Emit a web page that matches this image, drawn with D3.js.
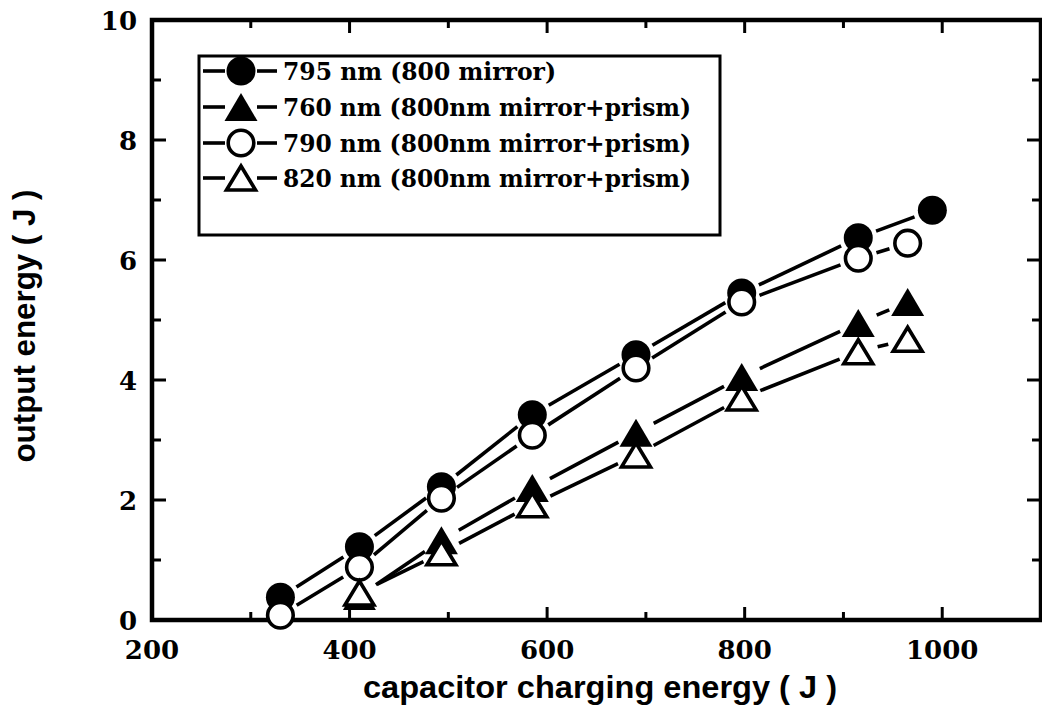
<!DOCTYPE html>
<html><head><meta charset="utf-8">
<script src="https://cdn.jsdelivr.net/npm/d3@7"></script>
<style>body{margin:0;background:#fff}</style>
</head><body>
<svg id="c" width="1042" height="712"></svg>
<script>
// ---- data ----
const x795 = [330, 410, 493, 585, 690, 797, 915, 990];
const y795 = [0.38, 1.22, 2.22, 3.42, 4.42, 5.45, 6.37, 6.83];
const x760 = [410, 493, 585, 690, 797, 915, 965];
const y760 = [0.40, 1.33, 2.20, 3.12, 4.05, 4.95, 5.30];
const x790 = [330, 410, 493, 585, 690, 797, 915, 965];
const y790 = [0.08, 0.88, 2.03, 3.08, 4.20, 5.30, 6.03, 6.28];
const x820 = [410, 493, 585, 690, 797, 915, 965];
const y820 = [0.45, 1.12, 1.92, 2.75, 3.70, 4.47, 4.68];
const legendLabels = ["795 nm (800 mirror)", "760 nm (800nm mirror+prism)", "790 nm (800nm mirror+prism)", "820 nm (800nm mirror+prism)"];
const xMajorTicks = [200, 400, 600, 800, 1000];
const xMinorTicks = [300, 500, 700, 900];
const yMajorTicks = [0, 2, 4, 6, 8, 10];
const yMinorTicks = [1, 3, 5, 7, 9];
const xTitle = "capacitor charging energy ( J )";
const yTitle = "output energy ( J )";

const series = [
  {xs: x795, ys: y795, shape: "circle", filled: true},
  {xs: x760, ys: y760, shape: "triangle", filled: true},
  {xs: x790, ys: y790, shape: "circle", filled: false},
  {xs: x820, ys: y820, shape: "triangle", filled: false}
];

const L = 152, R = 1041, T = 20, B = 620;
const x = d3.scaleLinear().domain([200, 1100]).range([L, R]);
const y = d3.scaleLinear().domain([0, 10]).range([B, T]);
const svg = d3.select("#c");
const serif = "'DejaVu Serif', serif";
const sans = "'Liberation Sans', Arial, sans-serif";

function triPath(w, h) {
  return `M0,${-h/2} L${w/2},${h/2} L${-w/2},${h/2} Z`;
}
function drawMarker(g, s, cx, cy) {
  if (s.shape === "circle") {
    if (s.filled) g.append("circle").attr("cx", cx).attr("cy", cy).attr("r", 14.5).attr("fill", "#000");
    else g.append("circle").attr("cx", cx).attr("cy", cy).attr("r", 12.8).attr("fill", "#fff").attr("stroke", "#000").attr("stroke-width", 3.6);
  } else {
    if (s.filled) g.append("path").attr("d", triPath(33, 28)).attr("transform", `translate(${cx},${cy})`).attr("fill", "#000");
    else g.append("path").attr("d", triPath(29, 24)).attr("transform", `translate(${cx},${cy})`).attr("fill", "#fff").attr("stroke", "#000").attr("stroke-width", 3.6).attr("stroke-linejoin", "miter");
  }
}

// frame
svg.append("rect").attr("x", L).attr("y", T).attr("width", R - L).attr("height", B - T)
  .attr("fill", "none").attr("stroke", "#000").attr("stroke-width", 4.5);

// ticks (all four sides, inward)
const tg = svg.append("g").attr("stroke", "#000").attr("stroke-width", 3);
function xt(v, len) {
  tg.append("line").attr("x1", x(v)).attr("x2", x(v)).attr("y1", B).attr("y2", B - len);
  tg.append("line").attr("x1", x(v)).attr("x2", x(v)).attr("y1", T).attr("y2", T + len);
}
function yt(v, len) {
  tg.append("line").attr("y1", y(v)).attr("y2", y(v)).attr("x1", L).attr("x2", L + len);
  tg.append("line").attr("y1", y(v)).attr("y2", y(v)).attr("x1", R).attr("x2", R - len);
}
xMajorTicks.forEach(v => xt(v, 13));
xMinorTicks.forEach(v => xt(v, 8));
yMajorTicks.forEach(v => yt(v, 14));
yMinorTicks.forEach(v => yt(v, 9));

// tick labels
svg.append("g").selectAll("text").data(xMajorTicks).join("text")
  .attr("x", d => x(d)).attr("y", 659).attr("text-anchor", "middle")
  .attr("font-family", serif).attr("font-weight", "bold").attr("font-size", 26).text(d => d);
svg.append("g").selectAll("text").data(yMajorTicks).join("text")
  .attr("x", 137).attr("y", d => y(d) + 9.5).attr("text-anchor", "end")
  .attr("font-family", serif).attr("font-weight", "bold").attr("font-size", 26).text(d => d);

// axis titles
svg.append("text").attr("x", 600).attr("y", 698).attr("text-anchor", "middle")
  .attr("font-family", sans).attr("font-weight", "bold").attr("font-size", 31)
  .attr("textLength", 474).attr("lengthAdjust", "spacingAndGlyphs").text(xTitle);
svg.append("text").attr("transform", "translate(35,326) rotate(-90)").attr("text-anchor", "middle")
  .attr("font-family", sans).attr("font-weight", "bold").attr("font-size", 31)
  .attr("textLength", 273).attr("lengthAdjust", "spacingAndGlyphs").text(yTitle);

// lines with gaps
const lg = svg.append("g").attr("stroke", "#000").attr("stroke-width", 3.6).attr("stroke-linecap", "butt");
series.forEach(s => {
  const gap = s.shape === "circle" ? 19 : 20;
  for (let i = 0; i < s.xs.length - 1; i++) {
    const x1 = x(s.xs[i]), y1 = y(s.ys[i]), x2 = x(s.xs[i+1]), y2 = y(s.ys[i+1]);
    const dx = x2 - x1, dy = y2 - y1, d = Math.hypot(dx, dy);
    if (d <= 2 * gap) continue;
    const ux = dx / d, uy = dy / d;
    lg.append("line").attr("x1", x1 + ux * gap).attr("y1", y1 + uy * gap)
      .attr("x2", x2 - ux * gap).attr("y2", y2 - uy * gap);
  }
});

// markers
series.forEach(s => {
  const g = svg.append("g");
  s.xs.forEach((xv, i) => drawMarker(g, s, x(xv), y(s.ys[i])));
});

// legend
const leg = svg.append("g");
leg.append("rect").attr("x", 199).attr("y", 56).attr("width", 521).attr("height", 179)
  .attr("fill", "#fff").attr("stroke", "#000").attr("stroke-width", 3);
const rowY = [71, 107, 143, 178];
const textW = [273, 408, 408, 408];
series.forEach((s, i) => {
  leg.append("line").attr("x1", 203).attr("x2", 225).attr("y1", rowY[i]).attr("y2", rowY[i])
    .attr("stroke", "#000").attr("stroke-width", 3.6);
  leg.append("line").attr("x1", 257).attr("x2", 277).attr("y1", rowY[i]).attr("y2", rowY[i])
    .attr("stroke", "#000").attr("stroke-width", 3.6);
  drawMarker(leg, s, 241, rowY[i]);
  leg.append("text").attr("x", 283).attr("y", rowY[i] + 9)
    .attr("font-family", serif).attr("font-weight", "bold").attr("font-size", 24)
    .attr("textLength", textW[i]).attr("lengthAdjust", "spacingAndGlyphs").text(legendLabels[i]);
});
</script>
</body></html>
